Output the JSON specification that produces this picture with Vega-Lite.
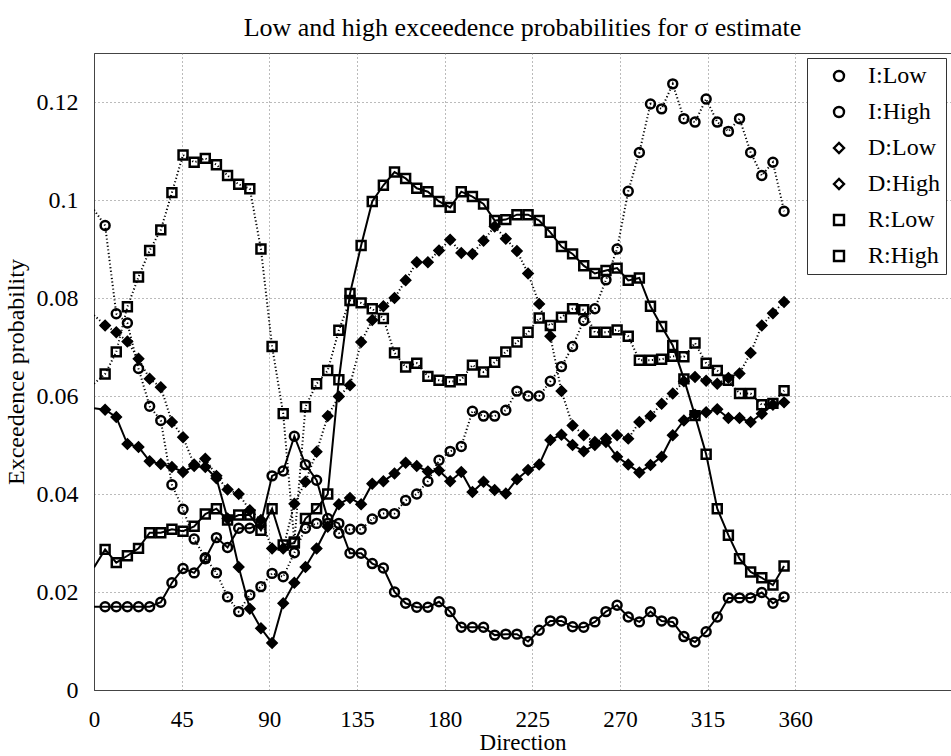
{
  "$schema": "https://vega.github.io/schema/vega-lite/v6.json",
  "width": 857,
  "height": 637,
  "autosize": {"type": "none"},
  "padding": {"left": 94, "top": 53, "right": 0, "bottom": 66},
  "background": "white",
  "title": {"text": "Low and high exceedence probabilities for σ estimate", "font": "Liberation Serif", "fontSize": 26, "fontWeight": "normal", "color": "black", "offset": 12},
  "config": {
    "font": "Liberation Serif",
    "view": {"stroke": "#444", "strokeWidth": 1},
    "axis": {
      "labelFont": "Liberation Serif", "labelFontSize": 24, "labelColor": "black",
      "titleFont": "Liberation Serif", "titleFontSize": 24, "titleFontWeight": "normal", "titleColor": "black",
      "domainColor": "#444", "ticks": false,
      "grid": true, "gridColor": "#777", "gridDash": [1, 3], "gridWidth": 1, "gridOpacity": 1
    }
  },
  "data": {"values": [
    {"d": 0, "I:Low": 0.017, "I:High": 0.098, "D:Low": 0.0575, "D:High": 0.0765, "R:Low": 0.025, "R:High": 0.0625},
    {"d": 5.71, "I:Low": 0.017, "I:High": 0.0948, "D:Low": 0.0572, "D:High": 0.0744, "R:Low": 0.0287, "R:High": 0.0645},
    {"d": 11.43, "I:Low": 0.017, "I:High": 0.0768, "D:Low": 0.0557, "D:High": 0.073, "R:Low": 0.026, "R:High": 0.069},
    {"d": 17.14, "I:Low": 0.017, "I:High": 0.0749, "D:Low": 0.0502, "D:High": 0.0711, "R:Low": 0.0274, "R:High": 0.0782},
    {"d": 22.86, "I:Low": 0.017, "I:High": 0.0656, "D:Low": 0.0496, "D:High": 0.0676, "R:Low": 0.0289, "R:High": 0.0843},
    {"d": 28.57, "I:Low": 0.017, "I:High": 0.0579, "D:Low": 0.0467, "D:High": 0.0635, "R:Low": 0.0321, "R:High": 0.0897},
    {"d": 34.29, "I:Low": 0.0179, "I:High": 0.055, "D:Low": 0.0461, "D:High": 0.0618, "R:Low": 0.0321, "R:High": 0.0939},
    {"d": 40, "I:Low": 0.0219, "I:High": 0.0419, "D:Low": 0.0455, "D:High": 0.0547, "R:Low": 0.0328, "R:High": 0.1015},
    {"d": 45.71, "I:Low": 0.0248, "I:High": 0.0369, "D:Low": 0.0445, "D:High": 0.0516, "R:Low": 0.0324, "R:High": 0.1092},
    {"d": 51.43, "I:Low": 0.0239, "I:High": 0.0308, "D:Low": 0.0457, "D:High": 0.046, "R:Low": 0.0334, "R:High": 0.1077},
    {"d": 57.14, "I:Low": 0.0268, "I:High": 0.027, "D:Low": 0.0455, "D:High": 0.0472, "R:Low": 0.0359, "R:High": 0.1085},
    {"d": 62.86, "I:Low": 0.0311, "I:High": 0.0239, "D:Low": 0.0432, "D:High": 0.0437, "R:Low": 0.037, "R:High": 0.1072},
    {"d": 68.57, "I:Low": 0.0291, "I:High": 0.019, "D:Low": 0.035, "D:High": 0.0409, "R:Low": 0.0347, "R:High": 0.105},
    {"d": 74.29, "I:Low": 0.033, "I:High": 0.016, "D:Low": 0.0251, "D:High": 0.04, "R:Low": 0.0357, "R:High": 0.1032},
    {"d": 80, "I:Low": 0.033, "I:High": 0.0194, "D:Low": 0.0166, "D:High": 0.0367, "R:Low": 0.0357, "R:High": 0.1023},
    {"d": 85.71, "I:Low": 0.034, "I:High": 0.0211, "D:Low": 0.0126, "D:High": 0.0347, "R:Low": 0.0326, "R:High": 0.09},
    {"d": 91.43, "I:Low": 0.0437, "I:High": 0.0238, "D:Low": 0.0096, "D:High": 0.0289, "R:Low": 0.037, "R:High": 0.0701},
    {"d": 97.14, "I:Low": 0.0447, "I:High": 0.0231, "D:Low": 0.0177, "D:High": 0.0289, "R:Low": 0.0296, "R:High": 0.0564},
    {"d": 102.86, "I:Low": 0.0518, "I:High": 0.028, "D:Low": 0.0219, "D:High": 0.038, "R:Low": 0.03, "R:High": 0.0302},
    {"d": 108.57, "I:Low": 0.046, "I:High": 0.033, "D:Low": 0.0251, "D:High": 0.0425, "R:Low": 0.035, "R:High": 0.0578},
    {"d": 114.29, "I:Low": 0.0428, "I:High": 0.034, "D:Low": 0.0289, "D:High": 0.0486, "R:Low": 0.037, "R:High": 0.0625},
    {"d": 120, "I:Low": 0.035, "I:High": 0.034, "D:Low": 0.0333, "D:High": 0.0559, "R:Low": 0.04, "R:High": 0.0652},
    {"d": 125.71, "I:Low": 0.034, "I:High": 0.032, "D:Low": 0.0379, "D:High": 0.0599, "R:Low": 0.0633, "R:High": 0.0734},
    {"d": 131.43, "I:Low": 0.0279, "I:High": 0.0328, "D:Low": 0.0392, "D:High": 0.0622, "R:Low": 0.0809, "R:High": 0.0795},
    {"d": 137.14, "I:Low": 0.0279, "I:High": 0.0328, "D:Low": 0.0379, "D:High": 0.071, "R:Low": 0.0907, "R:High": 0.079},
    {"d": 142.86, "I:Low": 0.0258, "I:High": 0.0349, "D:Low": 0.0421, "D:High": 0.0755, "R:Low": 0.0997, "R:High": 0.0778},
    {"d": 148.57, "I:Low": 0.0249, "I:High": 0.036, "D:Low": 0.0426, "D:High": 0.0783, "R:Low": 0.103, "R:High": 0.0758},
    {"d": 154.29, "I:Low": 0.02, "I:High": 0.036, "D:Low": 0.0442, "D:High": 0.08, "R:Low": 0.1057, "R:High": 0.0688},
    {"d": 160, "I:Low": 0.0177, "I:High": 0.0387, "D:Low": 0.0464, "D:High": 0.0836, "R:Low": 0.1044, "R:High": 0.0659},
    {"d": 165.71, "I:Low": 0.0169, "I:High": 0.04, "D:Low": 0.0457, "D:High": 0.0873, "R:Low": 0.1024, "R:High": 0.0667},
    {"d": 171.43, "I:Low": 0.0169, "I:High": 0.0426, "D:Low": 0.0446, "D:High": 0.0873, "R:Low": 0.1017, "R:High": 0.064},
    {"d": 177.14, "I:Low": 0.018, "I:High": 0.0469, "D:Low": 0.0448, "D:High": 0.0897, "R:Low": 0.0997, "R:High": 0.0632},
    {"d": 182.86, "I:Low": 0.016, "I:High": 0.0487, "D:Low": 0.0426, "D:High": 0.0919, "R:Low": 0.0985, "R:High": 0.0629},
    {"d": 188.57, "I:Low": 0.0128, "I:High": 0.0497, "D:Low": 0.0445, "D:High": 0.0892, "R:Low": 0.1017, "R:High": 0.0633},
    {"d": 194.29, "I:Low": 0.0128, "I:High": 0.0569, "D:Low": 0.0404, "D:High": 0.089, "R:Low": 0.1007, "R:High": 0.0663},
    {"d": 200, "I:Low": 0.0128, "I:High": 0.0559, "D:Low": 0.0425, "D:High": 0.0917, "R:Low": 0.0992, "R:High": 0.0649},
    {"d": 205.71, "I:Low": 0.0112, "I:High": 0.0559, "D:Low": 0.0408, "D:High": 0.0946, "R:Low": 0.0958, "R:High": 0.0669},
    {"d": 211.43, "I:Low": 0.0114, "I:High": 0.0571, "D:Low": 0.0401, "D:High": 0.0921, "R:Low": 0.096, "R:High": 0.069},
    {"d": 217.14, "I:Low": 0.0114, "I:High": 0.061, "D:Low": 0.043, "D:High": 0.0896, "R:Low": 0.097, "R:High": 0.071},
    {"d": 222.86, "I:Low": 0.0099, "I:High": 0.06, "D:Low": 0.0449, "D:High": 0.085, "R:Low": 0.097, "R:High": 0.073},
    {"d": 228.57, "I:Low": 0.0122, "I:High": 0.06, "D:Low": 0.046, "D:High": 0.0788, "R:Low": 0.0958, "R:High": 0.0759},
    {"d": 234.29, "I:Low": 0.0141, "I:High": 0.063, "D:Low": 0.051, "D:High": 0.0722, "R:Low": 0.0934, "R:High": 0.0744},
    {"d": 240, "I:Low": 0.0141, "I:High": 0.066, "D:Low": 0.0521, "D:High": 0.061, "R:Low": 0.0905, "R:High": 0.0761},
    {"d": 245.71, "I:Low": 0.0129, "I:High": 0.0701, "D:Low": 0.05, "D:High": 0.054, "R:Low": 0.089, "R:High": 0.0778},
    {"d": 251.43, "I:Low": 0.0128, "I:High": 0.0754, "D:Low": 0.0487, "D:High": 0.052, "R:Low": 0.0866, "R:High": 0.0776},
    {"d": 257.14, "I:Low": 0.0139, "I:High": 0.0778, "D:Low": 0.05, "D:High": 0.0506, "R:Low": 0.085, "R:High": 0.073},
    {"d": 262.86, "I:Low": 0.016, "I:High": 0.0837, "D:Low": 0.0506, "D:High": 0.0513, "R:Low": 0.0856, "R:High": 0.073},
    {"d": 268.57, "I:Low": 0.0173, "I:High": 0.09, "D:Low": 0.0476, "D:High": 0.052, "R:Low": 0.0861, "R:High": 0.0735},
    {"d": 274.29, "I:Low": 0.0149, "I:High": 0.1018, "D:Low": 0.046, "D:High": 0.0513, "R:Low": 0.0836, "R:High": 0.0722},
    {"d": 280, "I:Low": 0.0139, "I:High": 0.1097, "D:Low": 0.0444, "D:High": 0.0547, "R:Low": 0.0841, "R:High": 0.0673},
    {"d": 285.71, "I:Low": 0.016, "I:High": 0.1196, "D:Low": 0.0459, "D:High": 0.0559, "R:Low": 0.0783, "R:High": 0.0673},
    {"d": 291.43, "I:Low": 0.0141, "I:High": 0.1186, "D:Low": 0.0476, "D:High": 0.0584, "R:Low": 0.0742, "R:High": 0.0675},
    {"d": 297.14, "I:Low": 0.0139, "I:High": 0.1237, "D:Low": 0.052, "D:High": 0.0605, "R:Low": 0.0703, "R:High": 0.0681},
    {"d": 302.86, "I:Low": 0.0109, "I:High": 0.1166, "D:Low": 0.055, "D:High": 0.063, "R:Low": 0.0635, "R:High": 0.068},
    {"d": 308.57, "I:Low": 0.0098, "I:High": 0.1159, "D:Low": 0.0562, "D:High": 0.0639, "R:Low": 0.056, "R:High": 0.0708},
    {"d": 314.29, "I:Low": 0.0119, "I:High": 0.1206, "D:Low": 0.0567, "D:High": 0.0631, "R:Low": 0.0481, "R:High": 0.0667},
    {"d": 320, "I:Low": 0.0149, "I:High": 0.1159, "D:Low": 0.0573, "D:High": 0.0625, "R:Low": 0.037, "R:High": 0.0652},
    {"d": 325.71, "I:Low": 0.0188, "I:High": 0.114, "D:Low": 0.0555, "D:High": 0.0637, "R:Low": 0.0316, "R:High": 0.0632},
    {"d": 331.43, "I:Low": 0.0188, "I:High": 0.1166, "D:Low": 0.0555, "D:High": 0.0646, "R:Low": 0.0268, "R:High": 0.0605},
    {"d": 337.14, "I:Low": 0.0188, "I:High": 0.1097, "D:Low": 0.0547, "D:High": 0.0688, "R:Low": 0.0241, "R:High": 0.0605},
    {"d": 342.86, "I:Low": 0.0199, "I:High": 0.105, "D:Low": 0.0564, "D:High": 0.0744, "R:Low": 0.0229, "R:High": 0.0582},
    {"d": 348.57, "I:Low": 0.0177, "I:High": 0.1077, "D:Low": 0.0582, "D:High": 0.0769, "R:Low": 0.0214, "R:High": 0.0585},
    {"d": 354.29, "I:Low": 0.019, "I:High": 0.0977, "D:Low": 0.0587, "D:High": 0.0792, "R:Low": 0.0253, "R:High": 0.0611}
  ]},
  "transform": [
    {"fold": ["I:Low", "I:High", "D:Low", "D:High", "R:Low", "R:High"], "as": ["series", "prob"]}
  ],
  "encoding": {
    "x": {"field": "d", "type": "quantitative", "scale": {"domain": [0, 440], "nice": false, "zero": false},
      "axis": {"values": [0, 45, 90, 135, 180, 225, 270, 315, 360], "title": "Direction", "labelPadding": 18, "titlePadding": 0, "labelFlush": false, "labelFontSize": 23, "titleFontSize": 23}},
    "y": {"field": "prob", "type": "quantitative", "scale": {"domain": [0, 0.13], "nice": false},
      "axis": {"values": [0, 0.02, 0.04, 0.06, 0.08, 0.1, 0.12], "format": ".2~f", "title": "Exceedence probability", "labelPadding": 16, "titlePadding": 8}}
  },
  "layer": [
    {
      "transform": [{"filter": "indexof(datum.series, 'Low') >= 0"}],
      "mark": {"type": "line", "color": "black", "strokeWidth": 2, "clip": true},
      "encoding": {"detail": {"field": "series", "type": "nominal"}}
    },
    {
      "transform": [{"filter": "indexof(datum.series, 'High') >= 0"}],
      "mark": {"type": "line", "color": "black", "strokeWidth": 2, "strokeDash": [1.2, 2.4], "clip": true},
      "encoding": {"detail": {"field": "series", "type": "nominal"}}
    },
    {
      "transform": [{"filter": "datum.d > 0"}],
      "mark": {"type": "point", "filled": false, "stroke": "black", "strokeWidth": 2.5, "opacity": 1, "size": 80, "clip": true},
      "encoding": {
        "shape": {"field": "series", "type": "nominal",
          "scale": {"domain": ["I:Low", "I:High", "D:Low", "D:High", "R:Low", "R:High"], "range": ["circle", "circle", "diamond", "diamond", "square", "square"]},
          "legend": {
            "title": null, "orient": "top-right", "offset": 5, "padding": 6,
            "strokeColor": "#333", "fillColor": "white",
            "labelFont": "Liberation Serif", "labelFontSize": 24, "labelColor": "black",
            "symbolSize": 100, "symbolOffset": 14, "labelOffset": 17, "rowPadding": 12,
            "symbolStrokeWidth": 2.4, "symbolStrokeColor": "black",
            "encode": {"symbols": {
              "shape": {"value": {"expr": "datum.value === 'I:Low' ? 'M-3.6,0L-0.9,0M0.9,0L3.6,0M-0.9,0A0.9,0.9 0 1,0 0.9,0A0.9,0.9 0 1,0 -0.9,0Z' : datum.value === 'I:High' ? 'M-3.6,0L-3.35,0M-3.1,0L-2.85,0M-2.6,0L-2.35,0M-2.1,0L-1.85,0M-1.6,0L-1.35,0M1.1,0L1.35,0M1.6,0L1.85,0M2.1,0L2.35,0M2.6,0L2.85,0M3.1,0L3.35,0M-0.9,0A0.9,0.9 0 1,0 0.9,0A0.9,0.9 0 1,0 -0.9,0Z' : datum.value === 'D:Low' ? 'M-3.6,0L-1,0M1,0L3.6,0M-1,0L0,-1L1,0L0,1Z' : datum.value === 'D:High' ? 'M-3.6,0L-3.35,0M-3.1,0L-2.85,0M-2.6,0L-2.35,0M-2.1,0L-1.85,0M-1.6,0L-1.35,0M1.1,0L1.35,0M1.6,0L1.85,0M2.1,0L2.35,0M2.6,0L2.85,0M3.1,0L3.35,0M-1,0L0,-1L1,0L0,1Z' : datum.value === 'R:Low' ? 'M-3.6,0L-0.85,0M0.85,0L3.6,0M-0.85,-0.85L0.85,-0.85L0.85,0.85L-0.85,0.85Z' : 'M-3.6,0L-3.35,0M-3.1,0L-2.85,0M-2.6,0L-2.35,0M-2.1,0L-1.85,0M-1.6,0L-1.35,0M1.1,0L1.35,0M1.6,0L1.85,0M2.1,0L2.35,0M2.6,0L2.85,0M3.1,0L3.35,0M-0.85,-0.85L0.85,-0.85L0.85,0.85L-0.85,0.85Z'"}},
              "fill": {"value": {"expr": "indexof(datum.value, 'D:') === 0 ? 'black' : 'white'"}},
              "stroke": {"value": "black"},
              "strokeWidth": {"value": 2.4},
              "size": {"value": 100},
              "opacity": {"value": 1}
            }}
          }}
      }
    },
    {
      "transform": [{"filter": "datum.d > 0 && indexof(datum.series, 'D:') === 0"}],
      "mark": {"type": "point", "shape": "diamond", "filled": true, "fill": "black", "stroke": "black", "strokeWidth": 2, "opacity": 1, "size": 60, "clip": true},
      "encoding": {}
    }
  ]
}
